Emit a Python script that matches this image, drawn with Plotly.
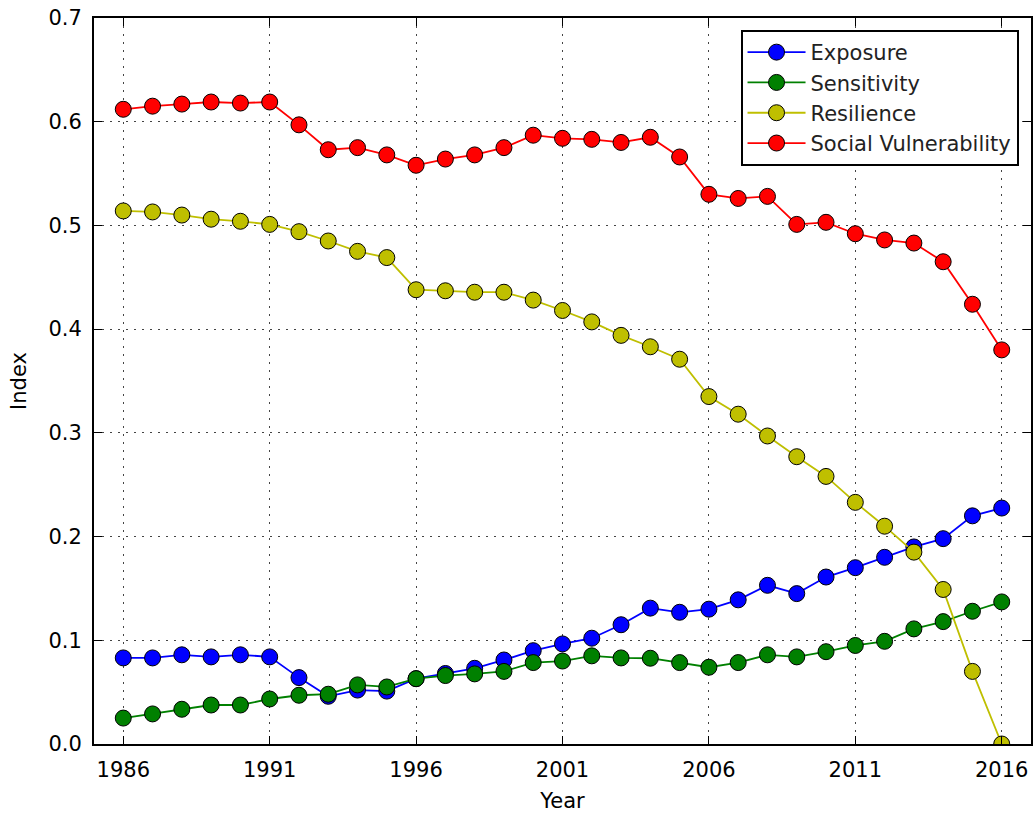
import plotly.graph_objects as go

years = list(range(1986, 2017))

exposure = [0.083, 0.083, 0.086, 0.084, 0.086, 0.084, 0.064, 0.046, 0.052, 0.051,
            0.063, 0.068, 0.073, 0.081, 0.090, 0.0965, 0.102, 0.115, 0.131, 0.127,
            0.130, 0.139, 0.153, 0.145, 0.161, 0.170, 0.180, 0.190, 0.198, 0.220, 0.2275]

sensitivity = [0.025, 0.029, 0.0335, 0.0376, 0.0376, 0.0434, 0.047, 0.048, 0.057, 0.055,
               0.063, 0.066, 0.0676, 0.070, 0.0785, 0.080, 0.085, 0.083, 0.0827, 0.0785,
               0.074, 0.0785, 0.086, 0.084, 0.089, 0.095, 0.099, 0.111, 0.118, 0.128, 0.137]

resilience = [0.514, 0.513, 0.510, 0.506, 0.504, 0.501, 0.494, 0.485, 0.475, 0.469,
              0.438, 0.437, 0.4356, 0.4356, 0.428, 0.418, 0.407, 0.394, 0.383, 0.371,
              0.335, 0.318, 0.297, 0.277, 0.258, 0.233, 0.210, 0.185, 0.149, 0.070, 0.0]

social_vuln = [0.612, 0.615, 0.617, 0.619, 0.618, 0.619, 0.597, 0.573, 0.575, 0.568,
               0.558, 0.564, 0.568, 0.575, 0.587, 0.584, 0.583, 0.580, 0.585, 0.566,
               0.530, 0.526, 0.528, 0.501, 0.503, 0.492, 0.486, 0.483, 0.465, 0.424, 0.380]

series = [
    ("Exposure", exposure, "#0000ff"),
    ("Sensitivity", sensitivity, "#008000"),
    ("Resilience", resilience, "#bfbf00"),
    ("Social Vulnerability", social_vuln, "#ff0000"),
]

x_ticks = [1986, 1991, 1996, 2001, 2006, 2011, 2016]
y_ticks = [0.0, 0.1, 0.2, 0.3, 0.4, 0.5, 0.6, 0.7]

fig = go.Figure()
for i, (name, vals, color) in enumerate(series):
    fig.add_trace(go.Scatter(
        x=years, y=vals, name=name, mode="lines+markers",
        legendgroup=f"g{i}",
        line=dict(color=color, width=1.8),
        marker=dict(size=16, color=color, line=dict(color="black", width=1)),
    ))

axis_common = dict(
    showline=True, linecolor="black", linewidth=2, mirror="ticks",
    ticks="inside", ticklen=8, tickwidth=1, tickcolor="black",
    showgrid=True, gridcolor="#444444", gridwidth=1, griddash="2px,6px",
    zeroline=False, automargin=False, ticklabeloverflow="allow",
    tickfont=dict(family="DejaVu Sans", size=21, color="black"),
    title_font=dict(family="DejaVu Sans", size=21, color="black"),
)

fig.update_xaxes(range=[1985, 2017], tickvals=x_ticks, ticktext=[str(t) for t in x_ticks],
                 title_text="Year", title_standoff=12, ticklabelstandoff=6, **axis_common)
fig.update_yaxes(range=[0, 0.7], tickvals=y_ticks, ticktext=[f"{t:.1f}" for t in y_ticks],
                 title_text="Index", title_standoff=16, ticklabelstandoff=6, **axis_common)

fig.update_layout(
    width=1036, height=817,
    margin=dict(l=94, r=5, t=18, b=73),
    plot_bgcolor="white", paper_bgcolor="white",
    font=dict(family="DejaVu Sans", size=20, color="black"),
    legend=dict(x=0.69, y=0.9835, xanchor="left", yanchor="top",
                bgcolor="white", bordercolor="black", borderwidth=2,
                font=dict(family="DejaVu Sans", size=21, color="#222222"),
                itemwidth=58, traceorder="grouped", tracegroupgap=0),
    showlegend=True,
)

fig.write_html("out.html", config={"displayModeBar": False},
               post_script="document.body.style.margin='0';")
